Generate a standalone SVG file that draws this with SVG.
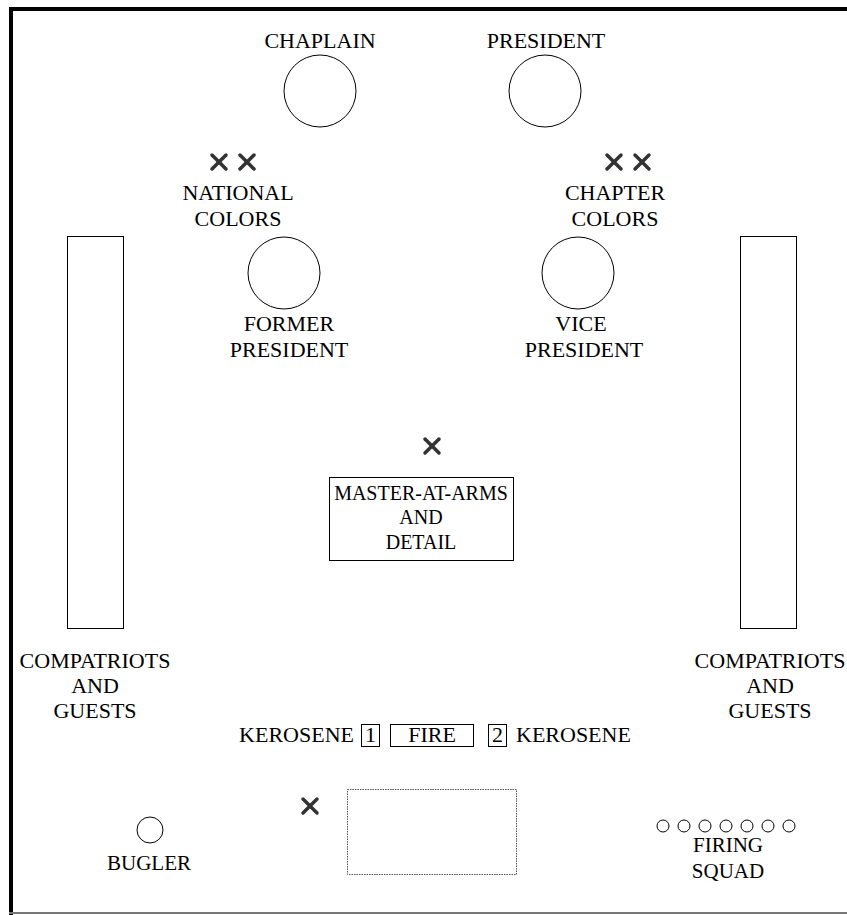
<svg xmlns="http://www.w3.org/2000/svg" width="847" height="915" viewBox="0 0 847 915">
<style>
text{font-family:"Liberation Serif","Times New Roman",serif;font-size:22px;fill:#000;text-anchor:middle}
.s{font-size:20px}
.m{font-size:21px}
.c{fill:#fff;stroke:#000;stroke-width:1}
.r{fill:#fff;stroke:#000;stroke-width:1}
.x{stroke:#333;stroke-width:3.5;stroke-linecap:round}
</style>
<defs>
<g id="xm"><line class="x" x1="-7" y1="-7" x2="7" y2="7"/><line class="x" x1="-7" y1="7" x2="7" y2="-7"/></g>
</defs>
<rect x="0" y="0" width="847" height="915" fill="#fff"/>
<g id="frame">
<line x1="11" y1="9" x2="847" y2="9" stroke="#000" stroke-width="4"/>
<line x1="11" y1="7" x2="11" y2="915" stroke="#000" stroke-width="4"/>
<line x1="9" y1="913" x2="847" y2="913" stroke="#777" stroke-width="2"/>
</g>
<g id="chaplain"><text x="320" y="48">CHAPLAIN</text><circle class="c" cx="320" cy="91" r="36"/></g>
<g id="president"><text x="546" y="48">PRESIDENT</text><circle class="c" cx="545" cy="91" r="36"/></g>
<g id="national-colors"><use href="#xm" x="219" y="162"/><use href="#xm" x="247" y="162"/><text x="238" y="200">NATIONAL</text><text x="238" y="226">COLORS</text></g>
<g id="chapter-colors"><use href="#xm" x="614" y="162"/><use href="#xm" x="642" y="162"/><text x="615" y="200">CHAPTER</text><text x="615" y="226">COLORS</text></g>
<g id="former-president"><circle class="c" cx="284" cy="273" r="36"/><text x="289" y="331">FORMER</text><text x="289" y="357">PRESIDENT</text></g>
<g id="vice-president"><circle class="c" cx="578" cy="273" r="36"/><text x="581" y="331">VICE</text><text x="584" y="357">PRESIDENT</text></g>
<g id="guests-left"><rect class="r" x="67.5" y="236.5" width="56" height="392"/><text x="95" y="668">COMPATRIOTS</text><text x="95" y="693">AND</text><text x="95" y="718">GUESTS</text></g>
<g id="guests-right"><rect class="r" x="740.5" y="236.5" width="56" height="392"/><text x="770" y="668">COMPATRIOTS</text><text x="770" y="693">AND</text><text x="770" y="718">GUESTS</text></g>
<g id="master-at-arms"><use href="#xm" x="432" y="446"/><rect class="r" x="329.5" y="477.5" width="184" height="83"/><text class="s" x="421" y="500">MASTER-AT-ARMS</text><text class="s" x="421" y="524">AND</text><text class="s" x="421" y="549">DETAIL</text></g>
<g id="kerosene-1"><text x="354" y="742" style="text-anchor:end">KEROSENE</text><rect class="r" x="361.5" y="724.5" width="18" height="22"/><text x="370.5" y="742">1</text></g>
<g id="fire"><rect class="r" x="390.5" y="724.5" width="83" height="22"/><text x="432" y="742">FIRE</text></g>
<g id="kerosene-2"><rect class="r" x="488.5" y="724.5" width="18" height="22"/><text x="497.5" y="742">2</text><text x="516" y="742" style="text-anchor:start">KEROSENE</text></g>
<g id="detail-x"><use href="#xm" x="310" y="806"/></g>
<g id="area"><rect x="347.5" y="789.5" width="169" height="85" fill="#fff" stroke="#555" stroke-width="1" stroke-dasharray="1.5,1"/></g>
<g id="bugler"><circle class="c" cx="150" cy="830" r="13"/><text class="m" x="149" y="870">BUGLER</text></g>
<g id="firing-squad">
<circle class="c" cx="663" cy="826" r="6"/><circle class="c" cx="684" cy="826" r="6"/><circle class="c" cx="705" cy="826" r="6"/><circle class="c" cx="726" cy="826" r="6"/><circle class="c" cx="747" cy="826" r="6"/><circle class="c" cx="768" cy="826" r="6"/><circle class="c" cx="789" cy="826" r="6"/>
<text class="m" x="728" y="852">FIRING</text><text class="m" x="728" y="878">SQUAD</text></g>
<g id="connectors"></g>
</svg>
